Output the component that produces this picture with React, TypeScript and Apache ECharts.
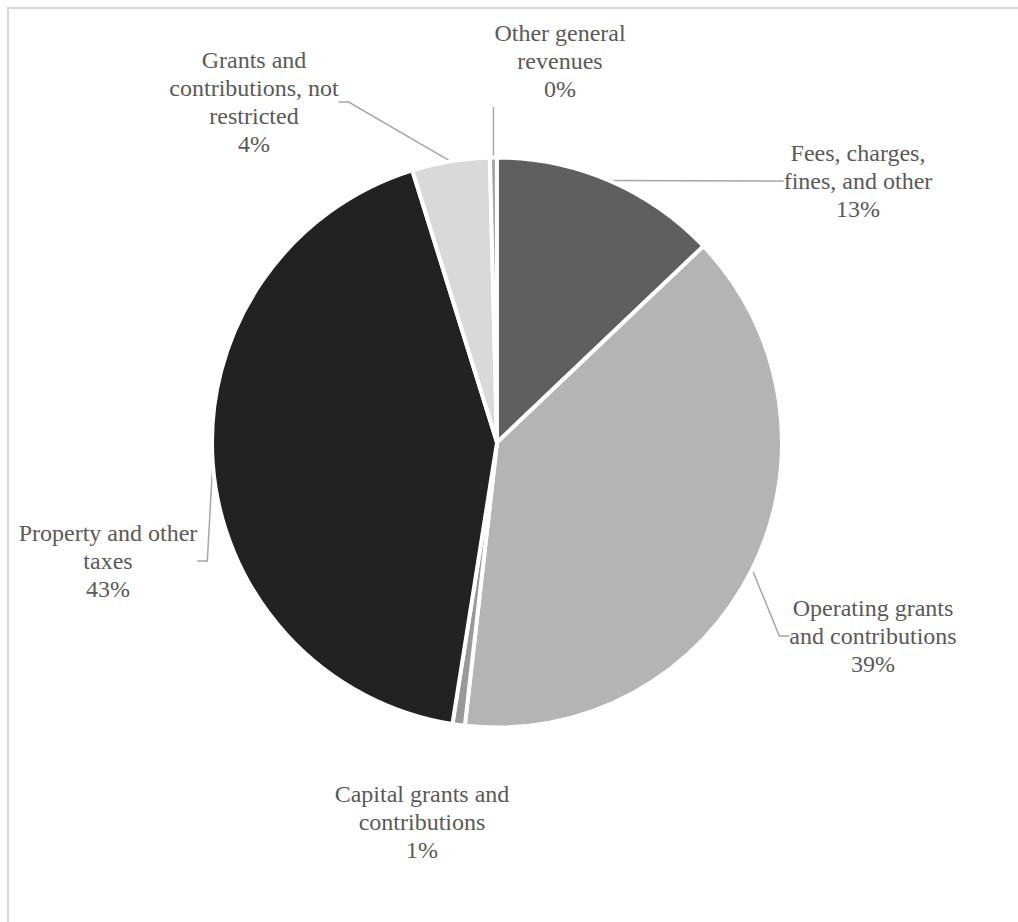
import React, { useEffect, useRef } from "react";
import * as echarts from "echarts";

const categories = [
  "Fees, charges,\nfines, and other",
  "Operating grants\nand contributions",
  "Capital grants and\ncontributions",
  "Property and other\ntaxes",
  "Grants and\ncontributions, not\nrestricted",
  "Other general\nrevenues",
];
const values = [12.9, 38.9, 0.7, 42.7, 4.4, 0.4];
const colors = ["#5f5f5f", "#b4b4b4", "#999999", "#222222", "#d9d9d9", "#a6a6a6"];
// label centres (chart px)
const labelPos: [number, number][] = [
  [849, 172],
  [864, 627],
  [413, 813],
  [99, 552],
  [245, 93],
  [551, 52],
];
const LINE_H = 28;

export default function App() {
  const ref = useRef<HTMLDivElement>(null);
  useEffect(() => {
    if (!ref.current) return;
    const chart = echarts.init(ref.current, null, { renderer: "svg" });
    chart.setOption({
      animation: false,
      series: [
        {
          type: "pie",
          center: [488, 433.5],
          radius: 285,
          startAngle: 90,
          clockwise: true,
          percentPrecision: 0,
          avoidLabelOverlap: false,
          data: categories.map((c, i) => ({
            name: c,
            value: values[i],
            itemStyle: { color: colors[i] },
            labelLine: i === 2 ? { show: false } : undefined,
          })),
          itemStyle: { borderColor: "#ffffff", borderWidth: 4 },
          label: {
            show: true,
            position: "outside",
            formatter: "{b}\n{d}%",
            fontFamily: "'Times New Roman', 'Liberation Serif', serif",
            fontSize: 24,
            lineHeight: LINE_H,
            color: "#595959",
            align: "center",
          },
          labelLine: {
            show: true,
            lineStyle: { color: "#a6a6a6", width: 1.5 },
            length: 20,
            length2: 10,
          },
          emphasis: { disabled: true },
          labelLayout: (params: any) => {
            const i = params.dataIndex;
            const p = labelPos[i];
            const out: any = {
              x: p[0],
              y: p[1],
              align: "center",
              verticalAlign: "middle",
              hideOverlap: false,
            };
            if (i === 5) {
              const r = params.rect;
              const sx = r.x + r.width / 2;
              const s = [sx, r.y + 2];
              const e = [sx, p[1] + (3 * LINE_H) / 2 + 4];
              out.labelLinePoints = [s, e, e];
            }
            return out;
          },
        },
      ],
    });
    return () => chart.dispose();
  }, []);
  return (
    <div style={{ position: "fixed", inset: 0, overflow: "hidden", background: "#fff" }}>
      <div
        style={{
          position: "absolute",
          left: 7,
          top: 7,
          width: 1030,
          height: 940,
          border: "2px solid #d9d9d9",
        }}
      >
        <div ref={ref} style={{ width: 1009, height: 913 }} />
      </div>
    </div>
  );
}
